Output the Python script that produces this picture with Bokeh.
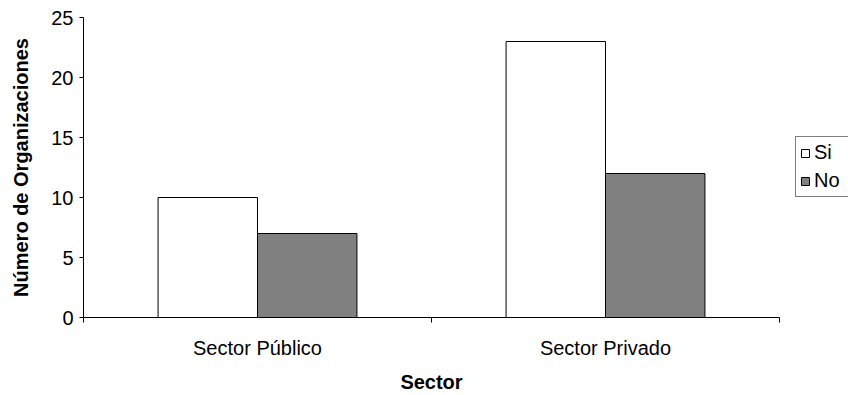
import numpy as np
from bokeh.plotting import figure
from bokeh.models import ColumnDataSource, Range1d, FixedTicker, Legend, LegendItem, LinearAxis
from bokeh.embed import file_html
from bokeh.resources import INLINE

categories = ["Sector Público", "Sector Privado"]
series = ["Si", "No"]
si_values = [10, 23]
no_values = [7, 12]
y_ticks = [0, 5, 10, 15, 20, 25]
x_title = "Sector"
y_title = "Número de Organizaciones"

FONT = "Liberation Sans"
FS = "20px"

n = len(categories)
idx = np.arange(n)
bar_w = 1.0 / 3.5
src = ColumnDataSource(dict(
    x_si=idx + 0.5 - bar_w / 2,
    x_no=idx + 0.5 + bar_w / 2,
    si=si_values,
    no=no_values,
))

# frame spans to the right edge so the legend (drawn inside) is not clipped;
# the category axis itself is bounded to [0, n]
x_end = n * 765.0 / 696.0
p = figure(width=848, height=395, output_backend="svg", toolbar_location=None,
           x_range=Range1d(0, x_end), y_range=Range1d(0, 25),
           min_border_left=83, min_border_right=0, min_border_top=17, min_border_bottom=77)
p.outline_line_color = None
p.background_fill_color = "white"
p.border_fill_color = "white"
p.xgrid.visible = False
p.ygrid.visible = False

r_si = p.vbar(x="x_si", top="si", width=bar_w, bottom=0, source=src,
              fill_color="white", line_color="black", line_width=1)
r_no = p.vbar(x="x_no", top="no", width=bar_w, bottom=0, source=src,
              fill_color="#808080", line_color="black", line_width=1)

# x axis (categories)
xa = p.xaxis[0]
xa.bounds = (0, n)
xa.ticker = FixedTicker(ticks=list(idx + 0.5), minor_ticks=list(range(n + 1)))
xa.major_label_overrides = {float(i + 0.5): c for i, c in enumerate(categories)}
xa.major_tick_out = 0
xa.major_tick_in = 0
xa.minor_tick_out = 5
xa.minor_tick_in = 0
xa.minor_tick_line_color = "black"
xa.axis_line_color = "black"
xa.major_label_text_font = FONT
xa.major_label_text_font_size = FS
xa.major_label_text_color = "black"
xa.major_label_standoff = 14

# x axis title, centred under the category axis
xt = LinearAxis(ticker=FixedTicker(ticks=[n / 2], minor_ticks=[]),
                major_label_overrides={float(n / 2): x_title})
xt.axis_line_color = None
xt.major_tick_line_color = None
xt.minor_tick_line_color = None
xt.major_tick_out = 0
xt.major_tick_in = 0
xt.major_label_text_font = FONT
xt.major_label_text_font_size = FS
xt.major_label_text_font_style = "bold"
xt.major_label_text_color = "black"
xt.major_label_standoff = 9
p.add_layout(xt, "below")

# y axis
ya = p.yaxis[0]
ya.ticker = FixedTicker(ticks=y_ticks, minor_ticks=[])
ya.major_tick_out = 4
ya.major_tick_in = 0
ya.major_tick_line_color = "black"
ya.axis_line_color = "black"
ya.major_label_text_font = FONT
ya.major_label_text_font_size = FS
ya.major_label_text_color = "black"
ya.major_label_standoff = 6
ya.axis_label = y_title
ya.axis_label_text_font = FONT
ya.axis_label_text_font_size = FS
ya.axis_label_text_font_style = "bold"
ya.axis_label_text_color = "black"
ya.axis_label_standoff = 16

legend = Legend(items=[LegendItem(label=series[0], renderers=[r_si]),
                       LegendItem(label=series[1], renderers=[r_no])],
                location=(712, 120))
legend.border_line_color = "black"
legend.border_line_width = 1
legend.background_fill_color = "white"
legend.background_fill_alpha = 1
legend.label_text_font = FONT
legend.label_text_font_size = FS
legend.label_text_color = "black"
legend.glyph_width = 10
legend.glyph_height = 10
legend.label_standoff = 4
legend.label_width = 36
legend.spacing = 5
legend.padding = 4
legend.margin = 0
p.add_layout(legend, "center")

open("out.html", "w").write(file_html(p, INLINE))
